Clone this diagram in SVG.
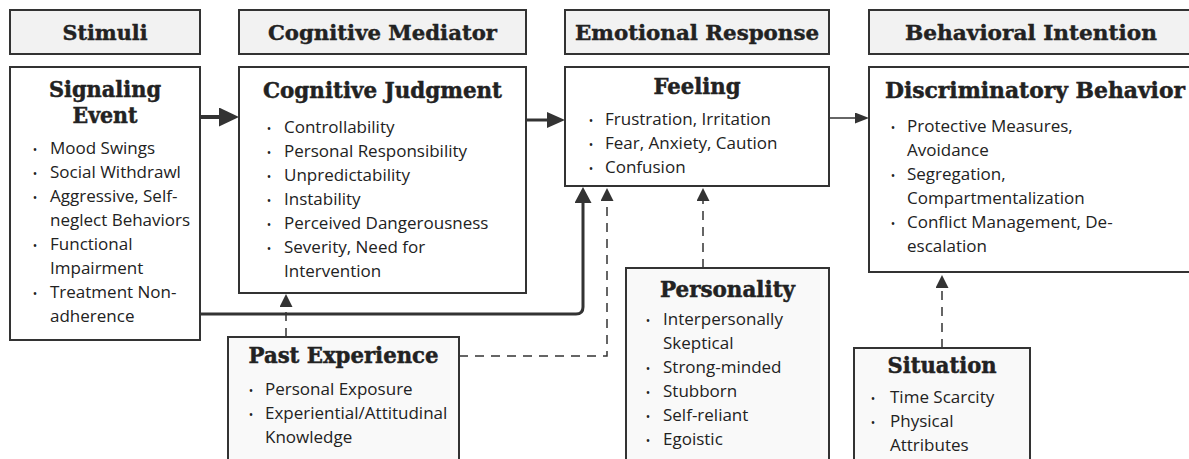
<svg xmlns="http://www.w3.org/2000/svg" width="1189" height="459" viewBox="0 0 1189 459">
<style>
.hdr{fill:#f2f2f2;stroke:#333;stroke-width:2}
.box{fill:#ffffff;stroke:#333;stroke-width:2}
.ctx{fill:#f9f9f9;stroke:#333;stroke-width:2}
.title{font-family:"DejaVu Serif","Liberation Serif",serif;font-weight:bold;font-size:22px;fill:#222;stroke:#222;stroke-width:0.5;text-anchor:middle}
.htxt{font-family:"DejaVu Serif","Liberation Serif",serif;font-weight:bold;font-size:20px;fill:#222;stroke:#222;stroke-width:0.4;text-anchor:middle}
.item{font-family:"Open Sans","Liberation Sans",sans-serif;font-size:17px;fill:#222}
.bul{font-family:"Open Sans","Liberation Sans",sans-serif;font-size:12px;fill:#222;text-anchor:middle}
.solid{fill:none;stroke:#333}
.dash{fill:none;stroke:#333;stroke-width:1.5;stroke-dasharray:9 7}
</style>
<defs>
<marker id="a1" markerUnits="userSpaceOnUse" viewBox="0 0 20 19" markerWidth="20" markerHeight="19" refX="0" refY="9.5" orient="auto"><path d="M0,0 L20,9.5 L0,19 z" fill="#333"/></marker>
<marker id="a2" markerUnits="userSpaceOnUse" viewBox="0 0 18 16" markerWidth="18" markerHeight="16" refX="0" refY="8" orient="auto"><path d="M0,0 L18,8 L0,16 z" fill="#333"/></marker>
<marker id="a3" markerUnits="userSpaceOnUse" viewBox="0 0 14 11" markerWidth="14" markerHeight="11" refX="0" refY="5.5" orient="auto"><path d="M0,0 L14,5.5 L0,11 z" fill="#333"/></marker>
<marker id="a4" markerUnits="userSpaceOnUse" viewBox="0 0 16 17" markerWidth="16" markerHeight="17" refX="0" refY="8.5" orient="auto"><path d="M0,0 L16,8.5 L0,17 z" fill="#333"/></marker>
<marker id="a5" markerUnits="userSpaceOnUse" viewBox="0 0 13 13" markerWidth="13" markerHeight="13" refX="0" refY="6.5" orient="auto"><path d="M0,0 L13,6.5 L0,13 z" fill="#333"/></marker>
</defs>
<rect width="1189" height="459" fill="#ffffff"/>

<g id="header-stimuli"><rect class="hdr" x="10" y="10" width="190" height="44"/><text class="htxt" x="105" y="40" textLength="85" lengthAdjust="spacingAndGlyphs">Stimuli</text></g>
<g id="header-cognitive-mediator"><rect class="hdr" x="239" y="10" width="287" height="44"/><text class="htxt" x="382.5" y="40" textLength="229" lengthAdjust="spacingAndGlyphs">Cognitive Mediator</text></g>
<g id="header-emotional-response"><rect class="hdr" x="565" y="10" width="264" height="44"/><text class="htxt" x="697" y="40" textLength="244" lengthAdjust="spacingAndGlyphs">Emotional Response</text></g>
<g id="header-behavioral-intention"><rect class="hdr" x="869" y="10" width="326" height="44"/><text class="htxt" x="1031" y="40" textLength="252" lengthAdjust="spacingAndGlyphs">Behavioral Intention</text></g>

<g id="connectors">
<path class="solid" stroke-width="4" d="M200,117 H219" marker-end="url(#a1)"/>
<path class="solid" stroke-width="3" d="M526,120 H547" marker-end="url(#a2)"/>
<path class="solid" stroke-width="1.5" d="M829,118 H855" marker-end="url(#a3)"/>
<path class="solid" stroke-width="3" d="M200,314 H576 Q583,314 583,307 V203" marker-end="url(#a4)"/>
<path class="dash" d="M286,337 V307" marker-end="url(#a5)"/>
<path class="dash" d="M459,356 H607 V201" marker-end="url(#a5)"/>
<path class="dash" d="M703,268 V201" marker-end="url(#a5)"/>
<path class="dash" d="M942,348 V288" marker-end="url(#a5)"/>
</g>

<g id="signaling-event">
<rect class="box" x="10" y="67" width="190" height="273"/>
<text class="title" x="105" y="97" textLength="112" lengthAdjust="spacingAndGlyphs">Signaling</text>
<text class="title" x="105" y="123" textLength="65" lengthAdjust="spacingAndGlyphs">Event</text>
<text class="bul" x="35" y="154">•</text><text class="item" x="50" y="154">Mood Swings</text>
<text class="bul" x="35" y="178">•</text><text class="item" x="50" y="178">Social Withdrawl</text>
<text class="bul" x="35" y="202">•</text><text class="item" x="50" y="202">Aggressive, Self-</text>
<text class="item" x="50" y="226">neglect Behaviors</text>
<text class="bul" x="35" y="250">•</text><text class="item" x="50" y="250">Functional</text>
<text class="item" x="50" y="274">Impairment</text>
<text class="bul" x="35" y="298">•</text><text class="item" x="50" y="298">Treatment Non-</text>
<text class="item" x="50" y="322">adherence</text>
</g>

<g id="cognitive-judgment">
<rect class="box" x="239" y="67" width="287" height="226"/>
<text class="title" x="382.5" y="98" textLength="239" lengthAdjust="spacingAndGlyphs">Cognitive Judgment</text>
<text class="bul" x="269" y="133">•</text><text class="item" x="284" y="133">Controllability</text>
<text class="bul" x="269" y="157">•</text><text class="item" x="284" y="157">Personal Responsibility</text>
<text class="bul" x="269" y="181">•</text><text class="item" x="284" y="181">Unpredictability</text>
<text class="bul" x="269" y="205">•</text><text class="item" x="284" y="205">Instability</text>
<text class="bul" x="269" y="229">•</text><text class="item" x="284" y="229">Perceived Dangerousness</text>
<text class="bul" x="269" y="253">•</text><text class="item" x="284" y="253">Severity, Need for</text>
<text class="item" x="284" y="277">Intervention</text>
</g>

<g id="feeling">
<rect class="box" x="565" y="67" width="264" height="119"/>
<text class="title" x="697" y="94" textLength="87" lengthAdjust="spacingAndGlyphs">Feeling</text>
<text class="bul" x="591" y="125">•</text><text class="item" x="605" y="125">Frustration, Irritation</text>
<text class="bul" x="591" y="149">•</text><text class="item" x="605" y="149">Fear, Anxiety, Caution</text>
<text class="bul" x="591" y="173">•</text><text class="item" x="605" y="173">Confusion</text>
</g>

<g id="discriminatory-behavior">
<rect class="box" x="869" y="67" width="326" height="205"/>
<text class="title" x="1035" y="98" textLength="300" lengthAdjust="spacingAndGlyphs">Discriminatory Behavior</text>
<text class="bul" x="893" y="132">•</text><text class="item" x="907" y="132">Protective Measures,</text>
<text class="item" x="907" y="156">Avoidance</text>
<text class="bul" x="893" y="180">•</text><text class="item" x="907" y="180">Segregation,</text>
<text class="item" x="907" y="204">Compartmentalization</text>
<text class="bul" x="893" y="228">•</text><text class="item" x="907" y="228">Conflict Management, De-</text>
<text class="item" x="907" y="252">escalation</text>
</g>

<g id="past-experience">
<rect class="ctx" x="228" y="337" width="231" height="130"/>
<text class="title" x="343.5" y="363" textLength="190" lengthAdjust="spacingAndGlyphs">Past Experience</text>
<text class="bul" x="251" y="395">•</text><text class="item" x="265" y="395">Personal Exposure</text>
<text class="bul" x="251" y="419">•</text><text class="item" x="265" y="419">Experiential/Attitudinal</text>
<text class="item" x="265" y="443">Knowledge</text>
</g>

<g id="personality">
<rect class="ctx" x="626" y="268" width="203" height="200"/>
<text class="title" x="727.5" y="297" textLength="135" lengthAdjust="spacingAndGlyphs">Personality</text>
<text class="bul" x="648" y="325">•</text><text class="item" x="663" y="325">Interpersonally</text>
<text class="item" x="663" y="349">Skeptical</text>
<text class="bul" x="648" y="373">•</text><text class="item" x="663" y="373">Strong-minded</text>
<text class="bul" x="648" y="397">•</text><text class="item" x="663" y="397">Stubborn</text>
<text class="bul" x="648" y="421">•</text><text class="item" x="663" y="421">Self-reliant</text>
<text class="bul" x="648" y="445">•</text><text class="item" x="663" y="445">Egoistic</text>
</g>

<g id="situation">
<rect class="ctx" x="854" y="348" width="176" height="120"/>
<text class="title" x="942" y="373" textLength="109" lengthAdjust="spacingAndGlyphs">Situation</text>
<text class="bul" x="873" y="403">•</text><text class="item" x="890" y="403">Time Scarcity</text>
<text class="bul" x="873" y="427">•</text><text class="item" x="890" y="427">Physical</text>
<text class="item" x="890" y="451">Attributes</text>
</g>
</svg>
